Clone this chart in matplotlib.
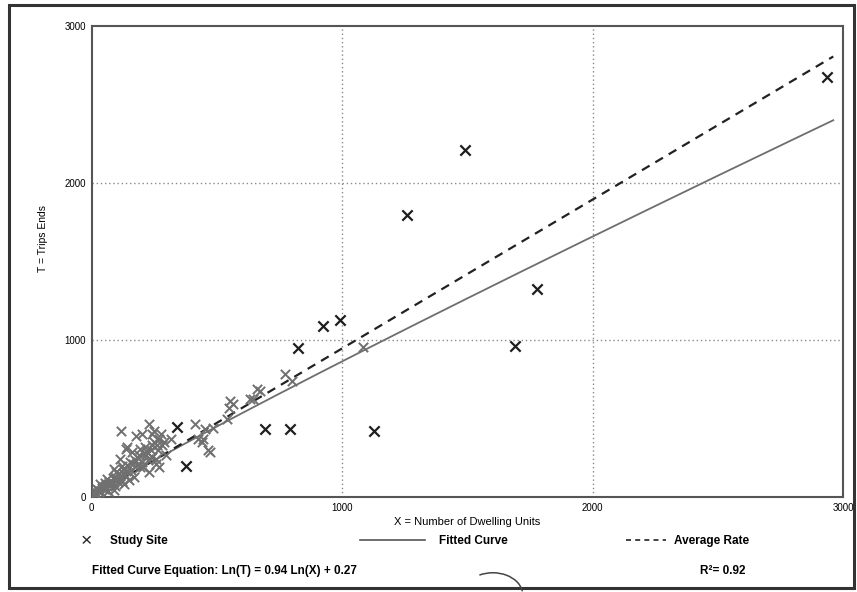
import numpy as np
import matplotlib.pyplot as plt
from matplotlib.patches import Rectangle, Arc

plt.rcParams['font.family'] = ['Liberation Sans', 'DejaVu Sans']

# Study sites that stand apart (drawn dark)
dark_x = [342, 375, 693, 793, 822, 922, 991, 1128, 1257, 1490, 1691, 1776, 2936]
dark_t = [445, 198, 432, 432, 948, 1090, 1129, 419, 1797, 2208, 961, 1323, 2677]

# Study sites in the dense cluster (drawn gray)
gray_x = [8, 15, 20, 28, 32, 40, 48, 55, 60, 65, 72, 80, 89, 89, 95, 101, 108, 113,
          117, 121, 129, 129, 135, 137, 141, 149, 153, 161, 165, 169, 177, 185, 193,
          193, 201, 201, 210, 217, 221, 230, 230, 242, 242, 242, 250, 258, 265, 270,
          270, 278, 282, 290, 298, 318,
          12, 18, 25, 35, 44, 52, 58, 68, 75, 84, 92, 98, 105, 112, 120, 126, 133,
          145, 158, 172, 181, 190, 206, 214, 226, 236, 248, 255, 262,
          411, 424, 439, 443, 451, 463, 471, 483, 539, 548, 552, 564, 632, 644, 660,
          673, 773, 801, 1083]
gray_t = [45, 35, 52, 32, 84, 60, 52, 70, 116, 40, 77, 95, 181, 45, 130, 110, 150, 245,
          419, 200, 148, 84, 170, 310, 323, 110, 226, 290, 210, 129, 387, 250, 310,
          194, 406, 226, 280, 271, 290, 465, 161, 400, 258, 335, 419, 245, 300, 374,
          194, 406, 335, 355, 271, 368,
          20, 28, 45, 40, 65, 90, 55, 100, 85, 120, 70, 160, 95, 135, 105, 180, 140,
          200, 175, 240, 205, 270, 190, 320, 235, 300, 355, 210, 330,
          465, 374, 355, 368, 432, 303, 290, 439, 497, 568, 613, 594, 626, 626, 690,
          677, 787, 742, 955]

# Fitted curve Ln(T) = 0.94 Ln(X) + 0.27, average rate
fit_a, fit_b = 0.94, 0.27
avg_rate = 0.948
x_range = [8, 2960]

x_ticks = [0, 1000, 2000, 3000]
y_ticks = [0, 1000, 2000, 3000]
grid_vals = [1000, 2000]

fig = plt.figure(figsize=(8.57, 5.92), dpi=100)
ax = fig.add_axes([0.107, 0.160, 0.877, 0.796])

for g in grid_vals:
    ax.axvline(g, color='#8a8a8a', lw=1.0, ls=(0, (1, 2)), zorder=0)
    ax.axhline(g, color='#8a8a8a', lw=1.0, ls=(0, (1, 2)), zorder=0)

xs = np.linspace(x_range[0], x_range[1], 300)
ax.plot(xs, np.exp(fit_b) * xs ** fit_a, color='#6e6e6e', lw=1.3, zorder=2)
ax.plot(xs, avg_rate * xs, color='#222222', lw=1.6, ls=(0, (4, 3)), zorder=3)

ax.scatter(gray_x, gray_t, marker='x', s=45, color='#707070', linewidths=1.4, zorder=4)
ax.scatter(dark_x, dark_t, marker='x', s=55, color='#1e1e1e', linewidths=1.6, zorder=5)

ax.set_xlim(0, 3000)
ax.set_ylim(0, 3000)
ax.set_xticks(x_ticks)
ax.set_yticks(y_ticks)
ax.tick_params(length=0, labelsize=7, pad=4)
for s in ax.spines.values():
    s.set_color('#555555')
    s.set_linewidth(1.5)
ax.set_xlabel('X = Number of Dwelling Units', fontsize=8, labelpad=3)
ax.set_ylabel('T = Trips Ends', fontsize=7.5)
ax.yaxis.set_label_coords(-0.058, 0.55)

# legend row
fig.text(0.094, 0.086, '\u00d7', fontsize=14, ha='left', va='center', color='#222222')
fig.text(0.128, 0.086, 'Study Site', fontsize=8.5, fontweight='bold', ha='left', va='center')
fig.add_artist(plt.Line2D([0.420, 0.496], [0.088, 0.088], color='#555555', lw=1.2))
fig.text(0.512, 0.086, 'Fitted Curve', fontsize=8.5, fontweight='bold', ha='left', va='center')
fig.add_artist(plt.Line2D([0.731, 0.777], [0.088, 0.088], color='#222222', lw=1.2,
                          ls=(0, (3, 2.5))))
fig.text(0.787, 0.086, 'Average Rate', fontsize=8.5, fontweight='bold', ha='left', va='center')

fig.text(0.107, 0.036, 'Fitted Curve Equation: Ln(T) = 0.94 Ln(X) + 0.27', fontsize=8.5,
         fontweight='bold', ha='left', va='center')
fig.text(0.817, 0.036, 'R\u00b2= 0.92', fontsize=8.5, fontweight='bold', ha='left', va='center')

# outer frame of the scanned page
fig.add_artist(Rectangle((0.011, 0.006), 0.986, 0.985, transform=fig.transFigure,
                         fill=False, edgecolor='#333333', lw=2.2))
fig.add_artist(Arc((0.575, -0.005), 0.07, 0.075, theta1=10, theta2=115,
                   transform=fig.transFigure, color='#444444', lw=1.1))

fig.savefig('out.png', dpi=100)
